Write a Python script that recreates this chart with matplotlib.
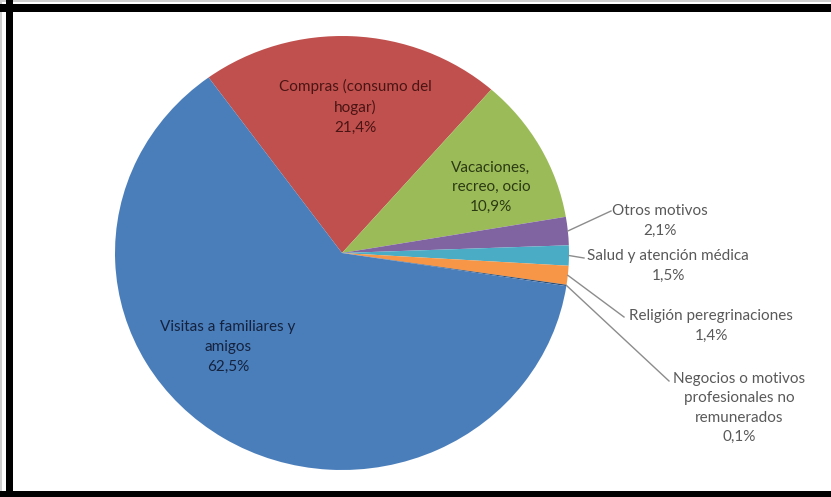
import matplotlib.pyplot as plt
import numpy as np
from matplotlib.patches import Rectangle

# motivos de viaje, en el orden en que se dibujan (sentido horario)
labels = ['Compras (consumo del\nhogar)', 'Vacaciones,\nrecreo, ocio', 'Otros motivos',
          'Salud y atención médica', 'Religión peregrinaciones',
          'Negocios o motivos\nprofesionales no\nremunerados', 'Visitas a familiares y\namigos']
values = [21.4, 10.9, 2.1, 1.5, 1.4, 0.1, 62.5]
colors = ['#C0504D', '#9BBB59', '#8064A2', '#4BACC6', '#F79646', '#2C4D75', '#4A7EBB']
inside_colors = ['#4a1414', '#2b3a12', None, None, None, None, '#14223d']

W, H = 831, 497
fig = plt.figure(figsize=(W / 100, H / 100), dpi=100)

# marco: línea gris fina arriba/izquierda y banda negra (izquierda, arriba y abajo)
for (x, y, w, h, c) in [(0, 1 - 2 / H, 1, 2 / H, '#cfcfcf'), (0, 0, 2 / W, 1, '#cfcfcf'),
                        (6 / W, 0, 7 / W, 1, 'black'), (0, 1 - 12 / H, 1, 8 / H, 'black'),
                        (0, 0, 1, 6 / H, 'black')]:
    fig.patches.append(Rectangle((x, y), w, h, transform=fig.transFigure,
                                 facecolor=c, edgecolor='none'))

# tarta ligeramente achatada, centrada en (342, 253) px
cx, cy, rx, ry = 342, 253, 227, 217
ax = fig.add_axes([(cx - rx) / W, (H - cy - ry) / H, 2 * rx / W, 2 * ry / H])
wedges, _ = ax.pie(values, colors=colors, startangle=126, counterclock=False,
                   radius=1, wedgeprops=dict(linewidth=0))
ax.set_aspect('auto')
ax.set_xlim(-1, 1)
ax.set_ylim(-1, 1)

font = 'Lato'
fs = 11
ls = 1.5


def px(x, y):
    # pixel de la figura -> coordenadas de datos del eje
    return (x - cx) / rx, (cy - y) / ry


def pct(v):
    return f'{v:.1f}%'.replace('.', ',')


# etiquetas dentro de la tarta
inside_pos = {0: (355, 107), 1: (491, 187), 6: (228, 347)}
for i, (x, y) in inside_pos.items():
    tx, ty = px(x, y)
    ax.text(tx, ty, labels[i] + '\n' + pct(values[i]), ha='center', va='center',
            fontsize=fs, family=font, color=inside_colors[i], linespacing=ls)

# etiquetas exteriores con línea guía
outside = {2: ((660, 221), (611, 211)),
           3: ((668, 266), (584, 258)),
           4: ((711, 326), (624, 317)),
           5: ((739, 408), (669, 381))}
for i, ((x, y), (lx, ly)) in outside.items():
    w = wedges[i]
    ang = np.deg2rad((w.theta1 + w.theta2) / 2)
    ex, ey = np.cos(ang), np.sin(ang)
    tx, ty = px(x, y)
    ax.text(tx, ty, labels[i] + '\n' + pct(values[i]), ha='center', va='center',
            fontsize=fs, family=font, color='#595959', linespacing=ls, clip_on=False)
    ax.plot([ex, px(lx, ly)[0]], [ey, px(lx, ly)[1]], color='#8c8c8c', lw=1, clip_on=False)

fig.savefig('out.png', dpi=100, facecolor='white')
